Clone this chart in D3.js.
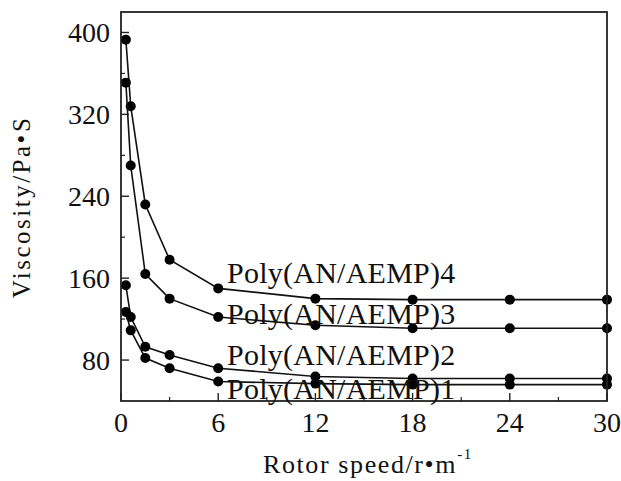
<!DOCTYPE html>
<html><head><meta charset="utf-8">
<script src="https://cdn.jsdelivr.net/npm/d3@7"></script>
<style>body{margin:0;background:#fff}svg{display:block}text{font-family:"Liberation Serif","Times New Roman",serif;fill:#111}</style>
</head><body><svg id="c" width="621" height="481"></svg>
<script>
const speeds = [0.3, 0.6, 1.5, 3, 6, 12, 18, 24, 30];
const poly4 = [393, 328, 232, 178, 150, 140, 139, 139, 139];
const poly3 = [351, 270, 164, 140, 122, 114, 111, 111, 111];
const poly2 = [153, 122, 93, 85, 72, 64, 62, 62, 62];
const poly1 = [127, 109, 82, 72, 59, 57, 56, 56, 56];
const seriesNames = ["Poly(AN/AEMP)4", "Poly(AN/AEMP)3", "Poly(AN/AEMP)2", "Poly(AN/AEMP)1"];
const xTicks = [0, 6, 12, 18, 24, 30];
const yTicks = [80, 160, 240, 320, 400];

const svg = d3.select("#c");
const L = 121, R = 607, T = 12, B = 401;
const x = d3.scaleLinear().domain([0, 30]).range([L, R]);
const y = d3.scaleLinear().domain([40, 420]).range([B, T]);

const all = [poly4, poly3, poly2, poly1];
const line = d3.line().x((d, i) => x(speeds[i])).y(d => y(d));

all.forEach(s => {
  svg.append("path").attr("d", line(s)).attr("fill", "none").attr("stroke", "#111").attr("stroke-width", 1.6);
  svg.selectAll(null).data(s).enter().append("circle")
    .attr("cx", (d, i) => x(speeds[i])).attr("cy", d => y(d)).attr("r", 5).attr("fill", "#000");
});

// frame
svg.append("rect").attr("x", L).attr("y", T).attr("width", R - L).attr("height", B - T)
  .attr("fill", "none").attr("stroke", "#222").attr("stroke-width", 1.8);

// ticks
const yMinor = d3.range(120, 400, 80);
const xMinor = d3.range(3, 30, 6);
yTicks.forEach(v => svg.append("line").attr("x1", L).attr("x2", L + 8).attr("y1", y(v)).attr("y2", y(v)).attr("stroke", "#222").attr("stroke-width", 1.4));
yMinor.forEach(v => svg.append("line").attr("x1", L).attr("x2", L + 4).attr("y1", y(v)).attr("y2", y(v)).attr("stroke", "#222").attr("stroke-width", 1.2));
xTicks.forEach(v => svg.append("line").attr("x1", x(v)).attr("x2", x(v)).attr("y1", B).attr("y2", B - 8).attr("stroke", "#222").attr("stroke-width", 1.4));
xMinor.forEach(v => svg.append("line").attr("x1", x(v)).attr("x2", x(v)).attr("y1", B).attr("y2", B - 4).attr("stroke", "#222").attr("stroke-width", 1.2));

// tick labels
yTicks.forEach(v => svg.append("text").attr("x", 110).attr("y", y(v)).attr("dy", "0.35em")
  .attr("text-anchor", "end").attr("font-size", 28).text(v));
xTicks.forEach(v => svg.append("text").attr("x", x(v)).attr("y", 432)
  .attr("text-anchor", "middle").attr("font-size", 28).text(v));

// series labels
const labelY = [283, 324, 365, 399];
seriesNames.forEach((n, i) => svg.append("text").attr("x", 227).attr("y", labelY[i])
  .attr("font-size", 30).attr("letter-spacing", 0.25).text(n));

// axis titles
svg.append("text").attr("transform", "translate(30,207) rotate(-90)").attr("text-anchor", "middle")
  .attr("font-size", 25).attr("letter-spacing", 2.5).text("Viscosity/Pa\u2022S");
const xt = svg.append("text").attr("x", 263).attr("y", 473).attr("font-size", 26).attr("letter-spacing", 1.6);
xt.append("tspan").text("Rotor speed/r\u2022m");
xt.append("tspan").attr("font-size", 15).attr("dy", -14).text("-1");
</script></body></html>
